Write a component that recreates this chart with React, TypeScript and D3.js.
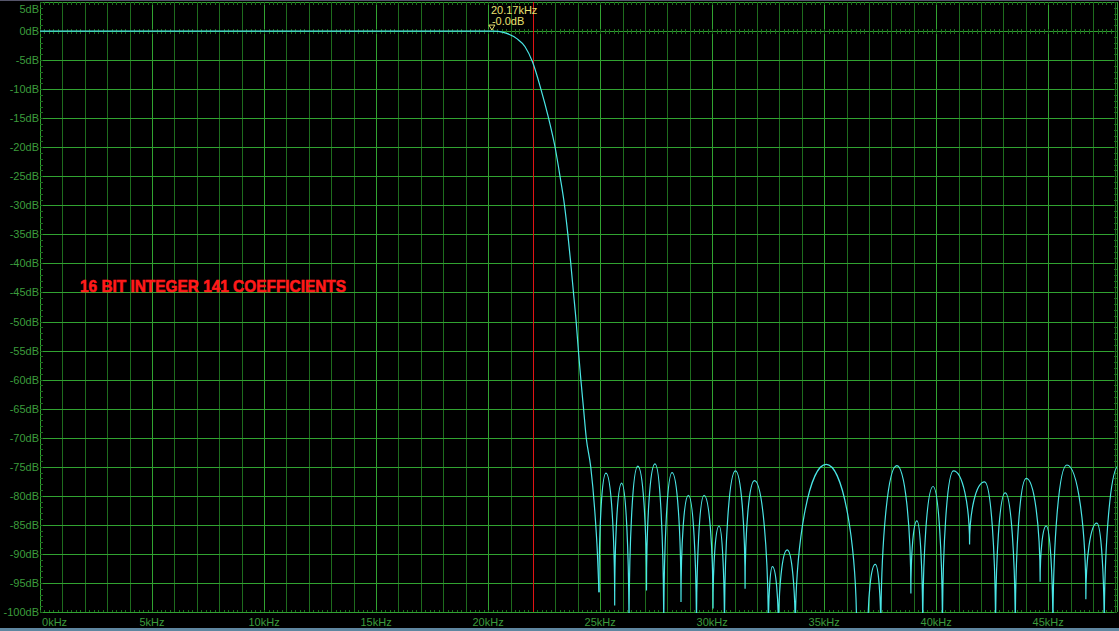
import { scaleLinear, line, curveMonotoneX, range } from "d3";

const W = 1119;
const H = 631;

// frequency axis (kHz) and level axis (dB)
const kHzMax = 48.07;
const xLabelKHz = [0, 5, 10, 15, 20, 25, 30, 35, 40, 45];
const yLabelDb = [5, 0, -5, -10, -15, -20, -25, -30, -35, -40, -45, -50, -55, -60, -65, -70, -75, -80, -85, -90, -95, -100];

// passband + transition band
const passKHz = [0, 20.2, 20.46, 20.83, 21.28, 21.65, 21.98, 22.35, 22.7, 22.99, 23.21, 23.41, 23.56, 23.69, 23.81, 23.93, 24.03, 24.14, 24.26, 24.38, 24.58, 24.75, 24.88, 24.95];
const passDb = [0, 0, -0.05, -0.4, -1.3, -2.7, -5.3, -9.9, -15, -20, -25, -30, -35, -40, -45, -50, -55, -60, -65, -70, -75, -82, -90, -96.6];

// stopband lobes: nulls and peaks
const nullKHz = [24.95, 25.65, 26.29, 27.07, 27.84, 28.61, 29.3, 30.04, 30.55, 31.47, 32.51, 32.96, 33.71, 36.45, 36.95, 37.53, 38.87, 39.4, 40.28, 41.49, 42.65, 43.53, 44.64, 45.21, 46.68, 47.5, 48.9];
const nullDb = [-96.6, -98.9, -104, -96.3, -104, -98.3, -104, -99.4, -104, -96, -104, -104, -104, -104, -104, -104, -96.8, -104, -104, -88.4, -104, -104, -94.8, -104, -97.8, -104, -104];
const peakKHz = [25.26, 25.96, 26.68, 27.45, 28.21, 28.94, 29.64, 30.31, 31.04, 31.89, 32.69, 33.35, 35.09, 36.7, 37.28, 38.24, 39.14, 39.86, 40.77, 42.16, 43.08, 44.02, 44.91, 45.83, 47.17, 48.15];
const peakDb = [-76.1, -77.8, -74.9, -74.5, -76.0, -79.9, -79.9, -85.2, -75.7, -77.4, -92.2, -89.3, -74.6, -101, -91.8, -74.8, -84.3, -78.4, -75.7, -77.6, -79.5, -77.0, -85.2, -74.7, -84.7, -74.8];

const cutoffKHz = 22;
const markerKHz = 20.17;
const markerDb = 0;

const GRID = "#31a331";
const GRID_MINOR = "#1e6c1e";
const LABEL = "#3c9c3c";
const FONT = "'Liberation Sans', Arial, sans-serif";

// snap to pixel centre so 1px lines stay crisp
const px = (v: number) => Math.round(v) + 0.5;

export default function App() {
  const left = 40;
  const right = 1117;
  const top = 2;
  const bottom = 612;

  const x = scaleLinear().domain([0, kHzMax]).range([left, right]);
  const y = scaleLinear().domain([-100, 5]).range([bottom, top]);

  const lineFn = line<[number, number]>()
    .x((d) => x(d[0]))
    .y((d) => y(d[1]))
    .curve(curveMonotoneX);

  const passPath = lineFn(passKHz.map((f, i) => [f, passDb[i]] as [number, number])) ?? "";

  // each lobe: quarter-ellipse up from the left null to the peak, then down to the right null
  const lobePath = peakKHz
    .map((pf, i) => {
      const x0 = x(nullKHz[i]);
      const y0 = y(nullDb[i]);
      const xp = x(pf);
      const yp = y(peakDb[i]);
      const x1 = x(nullKHz[i + 1]);
      const y1 = y(nullDb[i + 1]);
      return (
        `M${x0},${y0}` +
        `A${Math.abs(xp - x0)},${Math.abs(y0 - yp)} 0 0 1 ${xp},${yp}` +
        `A${Math.abs(x1 - xp)},${Math.abs(y1 - yp)} 0 0 1 ${x1},${y1}`
      );
    })
    .join("");

  const minorX = range(1, Math.floor(kHzMax) + 1).filter((k) => k % 5 !== 0);
  const fineX = range(0, kHzMax, 0.2);
  const fineY = range(-100, 5.01, 1);

  return (
    <div style={{ position: "fixed", left: 0, top: 0, width: W, height: H, background: "#000" }}>
      <svg width={W} height={H} style={{ display: "block" }}>
        <defs>
          <clipPath id="plot">
            <rect x={left} y={top} width={right - left} height={bottom - top + 1} />
          </clipPath>
        </defs>
        <rect width={W} height={H} fill="#000" />
        <line x1={0} x2={W} y1={0.5} y2={0.5} stroke="#55556a" />
        <rect x={0} y={628} width={W} height={3} fill="#5f86a0" />

        {/* minor vertical grid */}
        {minorX.map((k) => (
          <line key={"mx" + k} x1={px(x(k))} x2={px(x(k))} y1={top} y2={bottom} stroke={GRID_MINOR} />
        ))}
        {/* major vertical grid */}
        {xLabelKHz.map((k) => (
          <line key={"vx" + k} x1={px(x(k))} x2={px(x(k))} y1={top} y2={bottom} stroke={GRID} />
        ))}
        {/* horizontal grid */}
        {yLabelDb.map((d) => (
          <line key={"hy" + d} x1={left} x2={right} y1={px(y(d))} y2={px(y(d))} stroke={GRID} />
        ))}
        <line x1={px(right)} x2={px(right)} y1={top} y2={bottom} stroke={GRID} />

        {/* fine ticks */}
        {fineX.map((k, i) => (
          <g key={"fx" + i} stroke={GRID_MINOR}>
            <line x1={px(x(k))} x2={px(x(k))} y1={top} y2={top + 3} />
            <line x1={px(x(k))} x2={px(x(k))} y1={bottom - 2} y2={bottom} />
            <line x1={px(x(k))} x2={px(x(k))} y1={y(0) - 2} y2={y(0) + 3} />
          </g>
        ))}
        {fineY.map((d, i) => (
          <g key={"fy" + i} stroke={GRID_MINOR}>
            <line x1={left} x2={left + 3} y1={px(y(d))} y2={px(y(d))} />
            <line x1={right - 3} x2={right} y1={px(y(d))} y2={px(y(d))} />
          </g>
        ))}

        {/* axis labels */}
        {yLabelDb.map((d) => (
          <text
            key={"ly" + d}
            x={left - 1}
            y={Math.max(y(d), 9)}
            textAnchor="end"
            dominantBaseline="central"
            fill={LABEL}
            fontFamily={FONT}
            fontSize={11}
          >
            {d}dB
          </text>
        ))}
        {xLabelKHz.map((k) => (
          <text
            key={"lx" + k}
            x={k === 0 ? x(k) + 2 : x(k)}
            y={622}
            textAnchor={k === 0 ? "start" : "middle"}
            dominantBaseline="central"
            fill={LABEL}
            fontFamily={FONT}
            fontSize={11}
          >
            {k}kHz
          </text>
        ))}

        {/* cutoff line */}
        <line x1={px(x(cutoffKHz))} x2={px(x(cutoffKHz))} y1={top} y2={bottom} stroke="#e01414" />

        {/* response */}
        <g clipPath="url(#plot)" fill="none" stroke="#4ae6e6" strokeWidth={1.2}>
          <path d={passPath} />
          <path d={lobePath} />
        </g>

        {/* marker */}
        <path
          d={`M${x(markerKHz) - 3},${y(markerDb) - 6} L${x(markerKHz) + 3},${y(markerDb) - 6} L${x(markerKHz)},${y(markerDb) - 1} Z`}
          fill="none"
          stroke="#e8e070"
        />
        <text x={x(markerKHz) - 1} y={10} dominantBaseline="central" fill="#e8e070" fontFamily={FONT} fontSize={11}>
          {markerKHz}kHz
        </text>
        <text x={x(markerKHz)} y={21} dominantBaseline="central" fill="#e8e070" fontFamily={FONT} fontSize={11}>
          -{markerDb.toFixed(1)}dB
        </text>

        {/* annotation */}
        <text
          x={80}
          y={292}
          fill="#ff1a1a"
          stroke="#ff1a1a"
          strokeWidth={0.6}
          fontFamily={FONT}
          fontWeight="bold"
          fontSize={17}
          textLength={266}
          lengthAdjust="spacingAndGlyphs"
        >
          16 BIT INTEGER 141 COEFFICIENTS
        </text>
      </svg>
    </div>
  );
}
